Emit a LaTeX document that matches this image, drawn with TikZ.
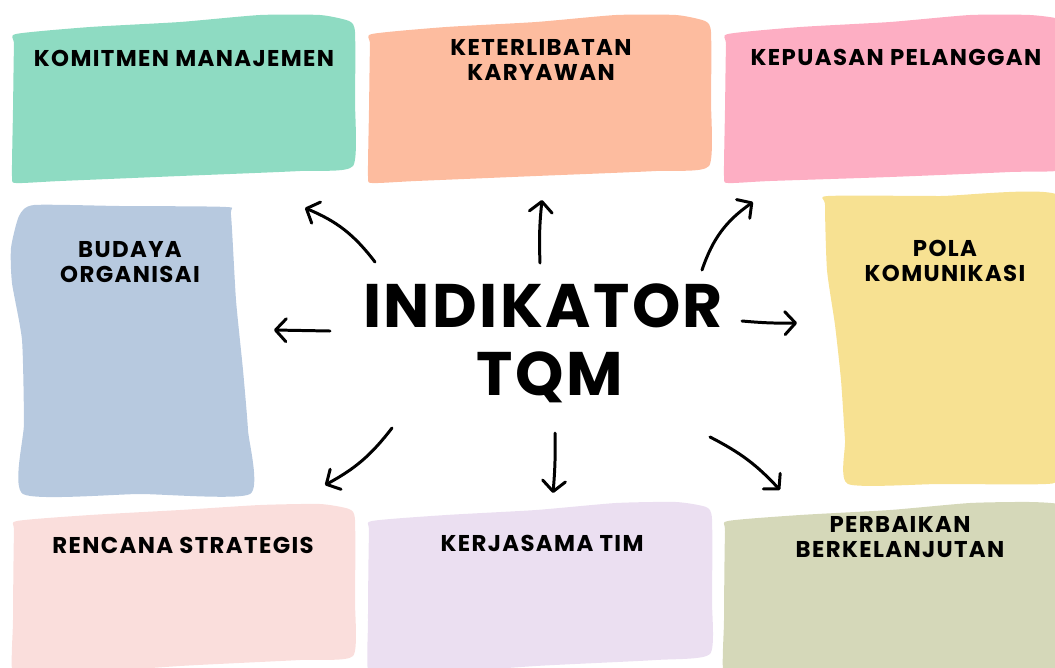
\documentclass[tikz,border=0pt]{standalone}
\usepackage{fontspec}
\newfontfamily\handfont{Poppins}[LetterSpace=6]
\newfontfamily\titlefont{Poppins}[LetterSpace=4]
\usetikzlibrary{arrows.meta}
\definecolor{mint}{HTML}{8EDBC2}
\definecolor{peach}{HTML}{FDBC9F}
\definecolor{rosepink}{HTML}{FDAEC3}
\definecolor{steel}{HTML}{B7C9DF}
\definecolor{butter}{HTML}{F7E192}
\definecolor{blush}{HTML}{FADEDC}
\definecolor{lilac}{HTML}{EBDFF1}
\definecolor{sage}{HTML}{D5D8B9}
\tikzset{
  card/.style={fill=#1, draw=none},
  label/.style={font=\handfont\bfseries\fontsize{13}{14.5}\selectfont, align=center, text=black, inner sep=0pt},
  title/.style={font=\titlefont\bfseries\fontsize{35}{42}\selectfont, align=center, text=black, inner sep=0pt},
  link/.style={line width=1.7pt, line cap=round, line join=round,
    -{Straight Barb[length=6pt,width=13pt,line cap=round,line join=round]}},
}
\begin{document}
\begin{tikzpicture}[x=0.02cm, y=-0.02cm]
\useasboundingbox (0,0) rectangle (1055,667);
\begin{scope}
\clip (0,0) rectangle (1055,667);
% top row
\fill[card=mint] plot[smooth cycle, tension=0.35] coordinates {
  (16,34) (90,27) (180,22) (260,15) (320,15) (349,21) (355,32) (355,100) (353,166)
  (300,171) (180,176) (60,181) (16,183) (12,176) (13,110) (14,45)};
\fill[card=peach] plot[smooth cycle, tension=0.35] coordinates {
  (372,34) (446,27) (536,22) (616,15) (676,15) (705,21) (711,32) (711,100) (709,166)
  (656,171) (536,176) (416,181) (372,183) (368,176) (369,110) (370,45)};
\fill[card=rosepink] plot[smooth cycle, tension=0.35] coordinates {
  (728,34) (800,27) (890,22) (970,15) (1030,15) (1062,20) (1070,40) (1070,120) (1070,168)
  (1010,172) (890,177) (770,181) (728,183) (724,176) (725,110) (726,45)};
% middle row
\fill[card=steel] plot[smooth cycle, tension=0.35] coordinates {
  (34,205) (120,206) (226,207) (231,215) (236,300) (243,370) (248,430) (250,494)
  (140,494) (23,494) (24,423) (22,340) (12,283) (11,248) (19,216)};
\fill[card=butter] plot[smooth cycle, tension=0.35] coordinates {
  (828,196) (940,196) (1060,196) (1060,300) (1060,400) (1056,476) (1046,484)
  (940,484) (848,484) (845,440) (841,380) (835,325) (827,270) (825,205)};
% bottom row
\fill[card=blush] plot[smooth cycle, tension=0.35] coordinates {
  (17,521) (90,515) (180,510) (260,505) (320,504) (349,509) (355,520) (355,600) (353,656)
  (300,660) (180,666) (60,675) (14,680) (13,620) (14,532)};
\fill[card=lilac] plot[smooth cycle, tension=0.35] coordinates {
  (372,521) (446,515) (536,510) (616,503) (676,502) (706,507) (712,519) (712,600) (710,654)
  (656,660) (536,666) (416,675) (370,680) (368,620) (369,532)};
\fill[card=sage] plot[smooth cycle, tension=0.35] coordinates {
  (728,521) (800,515) (890,510) (970,503) (1030,502) (1062,505) (1070,525) (1070,600) (1070,680)
  (1010,680) (890,680) (770,680) (725,682) (724,620) (725,532)};
\end{scope}

% card titles
\node[label] (kom) at (184,58) {KOMITMEN MANAJEMEN};
\node[label] (ket) at (541,60) {KETERLIBATAN\\KARYAWAN};
\node[label] (kep) at (896,57) {KEPUASAN PELANGGAN};
\node[label] (bud) at (130,262) {BUDAYA\\ORGANISAI};
\node[label] (pol) at (945,261) {POLA\\KOMUNIKASI};
\node[label] (ren) at (183,545) {RENCANA STRATEGIS};
\node[label] (ker) at (542,543) {KERJASAMA TIM};
\node[label] (per) at (900,537) {PERBAIKAN\\BERKELANJUTAN};

% central title
\node[title] (ind) at (543,306) {INDIKATOR};
\node[title] (tqm) at (550,377) {TQM};

% arrow ends
\coordinate (s1) at (375,262); \coordinate (e1) at (305,208);
\coordinate (s2) at (330,331); \coordinate (e2) at (274,330);
\coordinate (s3) at (392,428); \coordinate (e3) at (325,485);
\coordinate (s4) at (540,263); \coordinate (e4) at (542,200);
\coordinate (s5) at (702,270); \coordinate (e5) at (753,202);
\coordinate (s6) at (742,321); \coordinate (e6) at (797,323);
\coordinate (s7) at (710,437); \coordinate (e7) at (780,490);
\coordinate (s8) at (555,433); \coordinate (e8) at (553,493);

\draw[link] (s1) to[bend right=15] (e1);
\draw[link] (s2) -- (e2);
\draw[link] (s3) to[bend left=12] (e3);
\draw[link] (s4) to[bend left=4] (e4);
\draw[link] (s5) to[bend left=18] (e5);
\draw[link] (s6) to[bend right=3] (e6);
\draw[link] (s7) to[bend left=10] (e7);
\draw[link] (s8) to[bend left=3] (e8);
\end{tikzpicture}
\end{document}
